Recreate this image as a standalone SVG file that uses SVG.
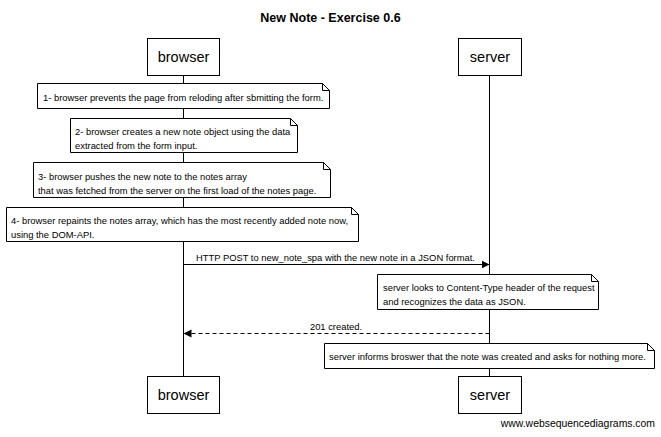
<svg xmlns="http://www.w3.org/2000/svg" width="661" height="437" viewBox="0 0 661 437">
<defs>
<style>
.t{font-family:"Liberation Sans",Arial,sans-serif;fill:#000}
.title{font-size:12.5px;font-weight:bold}
.p{font-size:14.5px}
.n{font-size:9.4px}
.box{fill:#fff;stroke:#000;stroke-width:1}
.note{fill:#fff;stroke:#000;stroke-width:1}
.life{stroke:#000;stroke-width:1}
.msg{stroke:#000;stroke-width:1;fill:none}
</style>
<marker id="ah" viewBox="0 0 10 10" refX="10" refY="5" markerWidth="8" markerHeight="10" markerUnits="userSpaceOnUse" orient="auto">
<path d="M0,0 L10,5 L0,10 z" fill="#000"/>
</marker>
</defs>
<rect width="661" height="437" fill="#fff"/>
<text class="t title" x="330.5" y="22" text-anchor="middle">New Note - Exercise 0.6</text>
<g id="lifelines">
<line class="life" x1="183.5" y1="75" x2="183.5" y2="377"/>
<line class="life" x1="489.5" y1="75" x2="489.5" y2="377"/>
</g>
<g id="browser-top"><rect class="box" x="147.5" y="38.5" width="72" height="37"/><text class="t p" x="183.5" y="62" text-anchor="middle">browser</text></g>
<g id="server-top"><rect class="box" x="458.5" y="38.5" width="63" height="37"/><text class="t p" x="490" y="62" text-anchor="middle">server</text></g>
<g id="browser-bottom"><rect class="box" x="147.5" y="376.5" width="72" height="37"/><text class="t p" x="183.5" y="400" text-anchor="middle">browser</text></g>
<g id="server-bottom"><rect class="box" x="458.5" y="376.5" width="63" height="37"/><text class="t p" x="490" y="400" text-anchor="middle">server</text></g>
<g id="note1"><path class="note" d="M37.5,83.5 H322.5 L329.5,90.5 V108.5 H37.5 Z M322.5,83.5 V90.5 H329.5"/><text class="t n" x="43" y="100.5">1- browser prevents the page from reloding after sbmitting the form.</text></g>
<g id="note2"><path class="note" d="M70.5,118.5 H290.5 L297.5,125.5 V152.5 H70.5 Z M290.5,118.5 V125.5 H297.5"/><text class="t n" x="75" y="134.5">2- browser creates a new note object using the data</text><text class="t n" x="75" y="148.5">extracted from the form input.</text></g>
<g id="note3"><path class="note" d="M33.5,162.5 H323.5 L330.5,169.5 V197.5 H33.5 Z M323.5,162.5 V169.5 H330.5"/><text class="t n" x="38" y="179.5">3- browser pushes the new note to the notes array</text><text class="t n" x="38" y="193.5">that was fetched from the server on the first load of the notes page.</text></g>
<g id="note4"><path class="note" d="M6.5,207.5 H351.5 L358.5,214.5 V241.5 H6.5 Z M351.5,207.5 V214.5 H358.5"/><text class="t n" x="11" y="223.5">4- browser repaints the notes array, which has the most recently added note now,</text><text class="t n" x="11" y="237.5">using the DOM-API.</text></g>
<g id="note5"><path class="note" d="M377.5,274.5 H591.5 L598.5,281.5 V309.5 H377.5 Z M591.5,274.5 V281.5 H598.5"/><text class="t n" x="383" y="291">server looks to Content-Type header of the request</text><text class="t n" x="383" y="305">and recognizes the data as JSON.</text></g>
<g id="note6"><path class="note" d="M324.5,343.5 H647.5 L654.5,350.5 V368.5 H324.5 Z M647.5,343.5 V350.5 H654.5"/><text class="t n" x="329" y="359.5">server informs broswer that the note was created and asks for nothing more.</text></g>
<g id="connectors">
<line class="msg" x1="183.5" y1="264.5" x2="489.5" y2="264.5" marker-end="url(#ah)"/>
<text class="t n" x="196" y="261">HTTP POST to new_note_spa with the new note in a JSON format.</text>
<line class="msg" x1="489.5" y1="333.5" x2="183.5" y2="333.5" stroke-dasharray="4,3" marker-end="url(#ah)"/>
<text class="t n" x="336" y="330" text-anchor="middle">201 created.</text>
</g>
<text class="t" x="655" y="427" text-anchor="end" font-size="10.4">www.websequencediagrams.com</text>
</svg>
